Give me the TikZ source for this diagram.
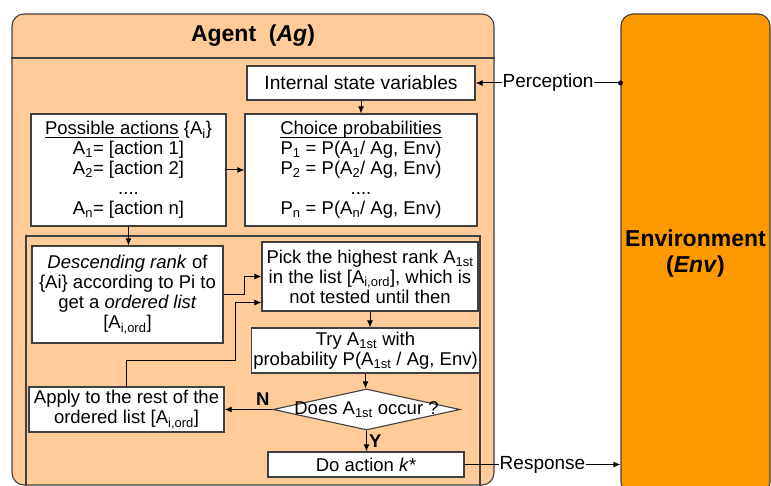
\documentclass[tikz,border=0pt]{standalone}
\usepackage{fontspec}
\setmainfont{Liberation Sans}
\usepackage{xcolor}
\usepackage{tikz}
\usetikzlibrary{arrows.meta, shapes.geometric}
\definecolor{agentpeach}{HTML}{FFCC99}
\definecolor{envorange}{HTML}{FF9900}
\definecolor{lineborder}{HTML}{404040}
\newcommand{\headline}[1]{\leavevmode\setbox0=\hbox{#1}\rlap{\rule[-3pt]{\wd0}{0.9pt}}\box0\relax}
\tikzset{
  box/.style={draw=lineborder, fill=white, line width=1.1pt, align=center, inner sep=2pt},
  arr/.style={-{Latex[length=7pt,width=6pt]}, line width=1pt},
  linklabel/.style={fill=white, inner sep=1pt, font=\fontsize{19}{21}\selectfont},
}

\begin{document}
\begin{tikzpicture}[x=1pt, y=-1pt, font=\fontsize{18.5}{20}\selectfont]
    \useasboundingbox (0,0) rectangle (771,486);
    % agent frame
    \node[draw=lineborder, fill=agentpeach, line width=1.1pt, rounded corners=12pt,
          minimum width=482pt, minimum height=471pt] (agent) at (253,249.5) {};
    \draw[lineborder, line width=1.1pt] (agent.west |- 0,58) -- (agent.east |- 0,58);
    \node[font=\fontsize{23}{26}\selectfont\bfseries] (agtitle) at (253,36) {Agent\ \ (\textit{Ag})};
    \draw[lineborder, line width=1.1pt] (26,492) |- (480,236) -- (480,492);
    % environment
    \node[draw=lineborder, fill=envorange, line width=1.1pt, rounded corners=12pt, align=center,
          minimum width=149pt, minimum height=480pt, font=\fontsize{23}{26}\selectfont\bfseries]
          (env) at (695.5,254) {Environment\\(\textit{Env})};

    \node[box, minimum width=228pt, minimum height=34pt, font=\fontsize{19.2}{20}\selectfont]
          (isv) at (361,83) {Internal state variables};
    \node[box, minimum width=195pt, minimum height=112pt] (poss) at (128.5,170) {%
      \headline{Possible actions} \{A\textsubscript{i}\}\\
      A\textsubscript{1}= [action 1]\\
      A\textsubscript{2}= [action 2]\\
      ....\\
      A\textsubscript{n}= [action n]};
    \node[box, minimum width=232pt, minimum height=112pt] (choice) at (361,170) {%
      \headline{Choice probabilities}\\
      P\textsubscript{1} = P(A\textsubscript{1}/ Ag, Env)\\
      P\textsubscript{2} = P(A\textsubscript{2}/ Ag, Env)\\
      ....\\
      P\textsubscript{n} = P(A\textsubscript{n}/ Ag, Env)};
    \node[box, minimum width=191pt, minimum height=97pt] (desc) at (127.5,294.5) {%
      \textit{Descending rank} of\\
      \{Ai\} according to Pi to\\
      get a \textit{ordered list}\\
      {}[A\textsubscript{i,ord}]};
    \node[box, minimum width=216pt, minimum height=69pt] (pick) at (370,276.5) {%
      Pick the highest rank A\textsubscript{1st}\\
      in the list [A\textsubscript{i,ord}], which is\\
      not tested until then};
    \node[box, minimum width=221pt, minimum height=45pt] (try) at (365.5,350.5) {%
      Try A\textsubscript{1st} with\\
      probability P(A\textsubscript{1st} / Ag, Env)};
    \node[diamond, draw=lineborder, fill=white, line width=1.1pt, inner sep=0pt,
          minimum width=187pt, minimum height=41pt] (dec) at (366.5,409.5) {};
    \node (dectxt) at (dec.center) {Does A\textsubscript{1st} occur ?};
    \node[box, minimum width=195pt, minimum height=45pt] (apply) at (126.5,409.5) {%
      Apply to the rest of the\\
      ordered list [A\textsubscript{i,ord}]};
    \node[box, minimum width=196pt, minimum height=25pt] (doact) at (366,464.5) {Do action \textit{k*}};

    \coordinate (loopback) at (235,360);
    \draw[arr] (isv.south) -- (choice.north);
    \draw[arr] (poss.east) -- (choice.west);
    \draw[arr] (poss.south) -- (poss.south |- desc.north);
    \draw[arr] (desc.east) -| ([xshift=-17pt]pick.west) -- (pick.west);
    \draw[arr] (apply.north) |- (loopback) |- ([yshift=9pt]pick.south west);
    \draw[arr] (pick.south) -- (pick.south |- try.north);
    \draw[arr] (try.south) -- (try.south |- dec.north);
    \draw[arr] (dec.west) -- node[above, pos=0.2, font=\fontsize{18.5}{20}\selectfont\bfseries] {N} (apply.east);
    \draw[arr] (dec.south) -- node[right, inner sep=2pt, font=\fontsize{18.5}{20}\selectfont\bfseries] {Y} (dec.south |- doact.north);
    \draw[arr] (doact.east) -- node[linklabel] {Response} (doact.east -| env.west);
    \fill (env.west |- isv.east) circle (2.5pt);
    \draw[arr] (env.west |- isv.east) -- node[linklabel] {Perception} (isv.east);
\end{tikzpicture}
\end{document}
